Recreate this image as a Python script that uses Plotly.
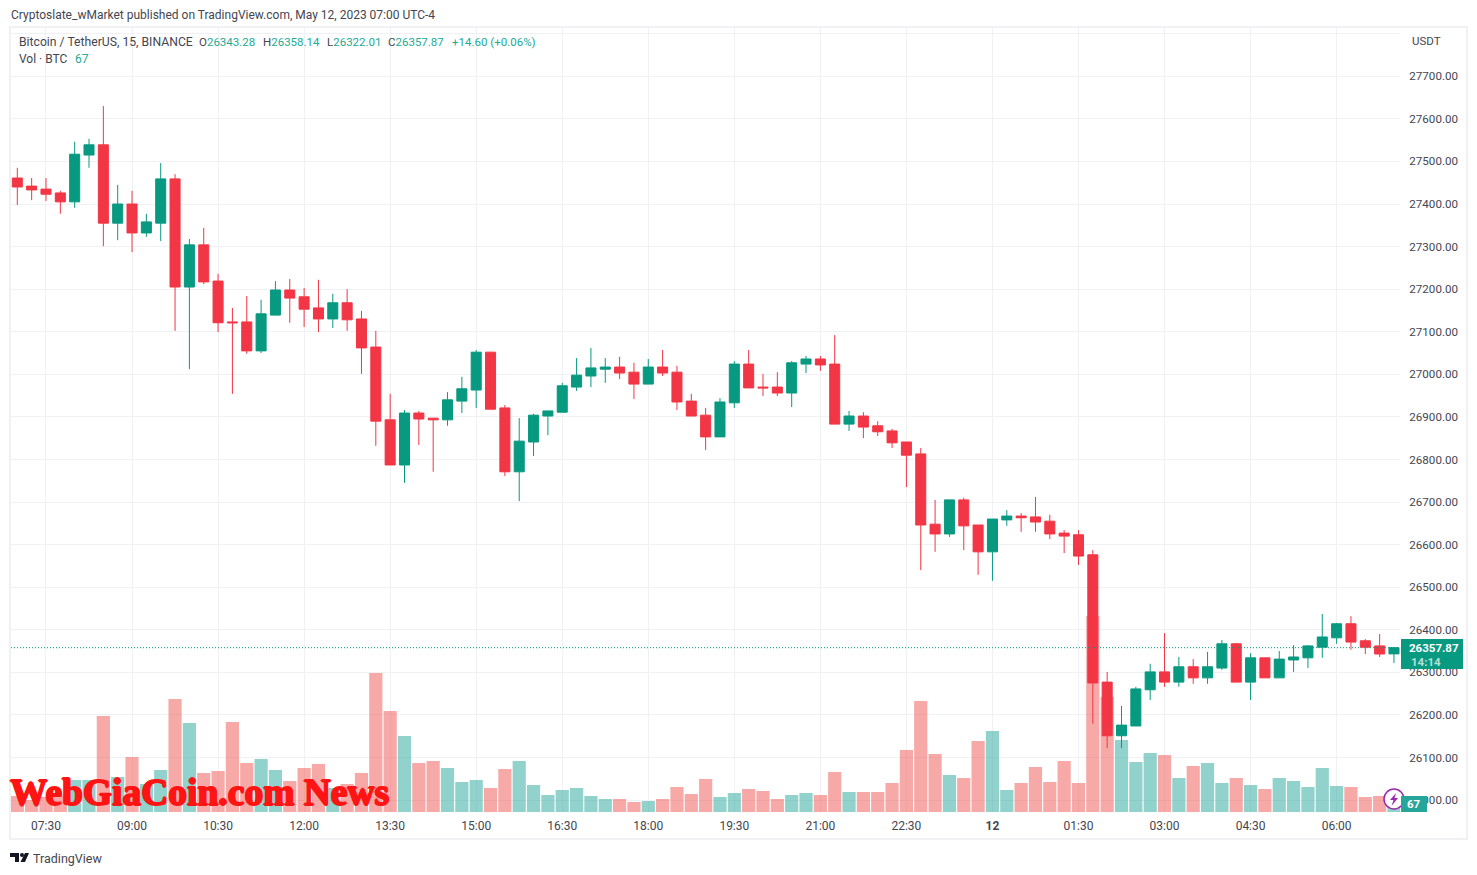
import pandas as pd
import plotly.graph_objects as go

opens = [27461,27442,27435,27426,27405,27515,27539,27355,27400,27332,27355,27459,27205,27304,27219,27123,27123,27055,27139,27198,27182,27156,27130,27168,27130,27064,26893,26787,26909,26897,26893,26937,26963,27052,26921,26771,26841,26902,26911,26970,26996,27012,27017,27005,26977,27017,27005,26937,26904,26853,26933,27024,26970,26970,26956,27024,27036,27024,26883,26902,26879,26867,26841,26813,26648,26625,26705,26646,26583,26658,26667,26665,26655,26627,26623,26576,26277,26151,26174,26259,26301,26277,26313,26287,26310,26367,26277,26334,26287,26329,26334,26359,26381,26414,26374,26362,26343.28]
highs = [27485,27461,27461,27431,27546,27553,27630,27445,27431,27377,27496,27470,27318,27344,27236,27156,27184,27175,27219,27224,27203,27222,27189,27200,27149,27102,26954,26916,26914,26897,26958,26994,27057,27052,26928,26897,26907,26914,26980,27038,27062,27038,27041,27027,27036,27057,27020,26954,26921,26944,27031,27057,27001,27005,27031,27043,27043,27092,26914,26911,26890,26872,26841,26827,26705,26705,26710,26646,26660,26681,26674,26712,26670,26634,26634,26587,26301,26221,26266,26320,26392,26336,26331,26348,26376,26369,26345,26334,26350,26364,26364,26437,26416,26432,26378,26390,26358.14]
lows = [27398,27409,27407,27377,27391,27485,27301,27315,27287,27323,27313,27102,27012,27212,27099,26954,27048,27050,27139,27121,27111,27099,27109,27102,27001,26832,26787,26745,26834,26771,26879,26909,26921,26918,26761,26702,26808,26857,26911,26961,26970,26980,26989,26942,26977,26996,26916,26902,26822,26853,26921,26968,26949,26949,26923,27003,27008,26883,26867,26850,26855,26827,26735,26540,26583,26618,26587,26529,26515,26644,26630,26630,26613,26580,26552,26179,26122,26122,26174,26235,26266,26266,26273,26273,26306,26277,26235,26287,26287,26301,26310,26334,26367,26353,26343,26336,26322.01]
closes = [27440,27433,27423,27405,27517,27539,27355,27400,27332,27358,27459,27205,27304,27217,27121,27121,27055,27142,27198,27179,27153,27130,27168,27128,27062,26890,26787,26909,26895,26893,26940,26966,27052,26918,26771,26843,26904,26914,26973,26998,27015,27017,27003,26977,27017,27003,26935,26902,26853,26935,27024,26968,26968,26956,27027,27036,27022,26883,26902,26876,26865,26839,26810,26646,26625,26705,26644,26583,26660,26667,26663,26653,26625,26620,26573,26275,26151,26176,26261,26301,26277,26313,26287,26313,26367,26277,26334,26287,26331,26336,26362,26383,26414,26371,26359,26343,26357.87]
volumes = [208,156,195,208,416,416,1248,455,715,364,546,1469,1157,507,533,1170,637,689,546,403,572,624,312,364,507,1807,1313,988,637,663,572,390,416,312,559,663,351,221,286,312,208,169,169,130,143,169,325,234,429,195,247,299,273,169,221,247,221,520,260,260,260,377,806,1443,754,481,442,923,1053,286,377,585,390,663,377,2548,1495,936,650,767,741,442,598,637,377,442,351,299,442,403,325,572,338,325,195,208,67]
assert len(opens) == len(highs) == len(lows) == len(closes) == len(volumes) == 97

times = pd.date_range("2023-05-11 07:00", periods=len(opens), freq="15min")
time_tick_labels = ["07:30","09:00","10:30","12:00","13:30","15:00","16:30","18:00","19:30","21:00","22:30","<b>12</b>","01:30","03:00","04:30","06:00"]
time_ticks = pd.date_range("2023-05-11 07:30", periods=len(time_tick_labels), freq="90min")
price_ticks = list(range(26000, 27900, 100))
price_tick_labels = [f"{p:.2f}" if p <= 27700 else "" for p in price_ticks]
last_price = 26357.87

UP, DOWN = "#089981", "#F23645"
VOL_UP, VOL_DOWN = "rgba(38,166,154,0.5)", "rgba(239,83,80,0.5)"
GRID = "#f0f1f4"
FONT = "Roboto"
TEXT = "#434651"

W, H = 1477, 875
L, R, T, B = 11, 1400, 28, 812
def px(x): return (x - L) / (R - L)
def py(y): return (B - y) / (B - T)

fig = go.Figure()
fig.add_bar(x=times, y=volumes, yaxis="y", marker_line_width=0,
            marker_color=[VOL_UP if c >= o else VOL_DOWN for o, c in zip(opens, closes)])
fig.add_candlestick(x=times, open=opens, high=highs, low=lows, close=closes, yaxis="y2",
                    whiskerwidth=0,
                    increasing=dict(line=dict(color=UP, width=1), fillcolor=UP),
                    decreasing=dict(line=dict(color=DOWN, width=1), fillcolor=DOWN))

def note(x, y, text, size=12, color=TEXT, family=FONT, anchor="left", **font):
    return dict(xref="paper", yref="paper", x=px(x), y=py(y), text=text, showarrow=False,
                xanchor=anchor, yanchor="middle", borderpad=0,
                font=dict(family=family, size=size, color=color, **font))

def box(x0, y0, x1, y1, fill, line=None, width=0, kind="rect"):
    return dict(type=kind, xref="paper", yref="paper", layer="above",
                x0=px(x0), x1=px(x1), y0=py(y0), y1=py(y1),
                fillcolor=fill, line=dict(color=line or fill, width=width))

def path(points, fill):
    d = "M" + " L".join(f"{px(a):.5f},{py(b):.5f}" for a, b in points) + " Z"
    return dict(type="path", xref="paper", yref="paper", layer="above", path=d,
                fillcolor=fill, line=dict(width=0))

TEAL = "#22ab94"
WM = "#ff1414"
notes = [
    note(10, 15, "Cryptoslate_wMarket published on TradingView.com, May 12, 2023 07:00 UTC-4", 12),
    note(18, 42, "Bitcoin / TetherUS, 15, BINANCE", 12.2),
    note(198, 42, f'O<span style="color:{TEAL}">26343.28</span>', 11.5),
    note(262, 42, f'H<span style="color:{TEAL}">26358.14</span>', 11.5),
    note(326, 42, f'L<span style="color:{TEAL}">26322.01</span>', 11.5),
    note(387, 42, f'C<span style="color:{TEAL}">26357.87</span>', 11.5),
    note(451, 42, "+14.60 (+0.06%)", 11.5, TEAL),
    note(18, 59, "Vol · BTC", 12),
    note(74, 59, "67", 12, TEAL),
    note(1411, 41, "USDT", 11.5),
    note(1408, 648, "<b>26357.87</b>", 11.5, "#ffffff"),
    note(1410, 662, "<b>14:14</b>", 11.5, "#b5e0d8"),
    note(1414, 804, "<b>67</b>", 11.5, "#ffffff", anchor="center"),
    note(9, 792, "<b>WebGiaCoin.com News</b>", 37.5, WM, "Liberation Serif",
         shadow=f"1px 0 0 {WM}, -1px 0 0 {WM}, 0 1px 0 {WM}, 0 -1px 0 {WM}"),
    note(32, 858, "TradingView", 12.5),
]

shapes = [
    dict(type="rect", xref="paper", yref="paper", layer="below",
         x0=px(10), x1=px(1467), y0=py(839), y1=py(27), line=dict(color=GRID, width=2)),
    dict(type="line", xref="paper", yref="y2", layer="above", x0=0, x1=1, y0=last_price, y1=last_price,
         line=dict(color=UP, width=1, dash="1px,2px")),
    box(1401, 639, 1463, 669, UP),
    box(1384, 789, 1404, 809, "#ffffff", "#9c27b0", 1.5, "circle"),
    path([(1396, 793), (1390, 800), (1393.5, 800), (1391.5, 806), (1398, 798), (1394.5, 798)], "#9c27b0"),
    box(1401, 796, 1427, 812, "#26a69a"),
    # TradingView logo
    path([(10, 853), (19, 853), (19, 862), (15, 862), (15, 857), (10, 857)], "#131722"),
    path([(25, 853), (29, 853), (25, 862), (20.5, 862)], "#131722"),
    box(20, 853, 24, 857, "#131722", kind="circle"),
]

fig.update_layout(
    width=W, height=H, margin=dict(l=L, r=W - R, t=T, b=H - B, pad=0, autoexpand=False),
    paper_bgcolor="#ffffff", plot_bgcolor="#ffffff", showlegend=False,
    bargap=0.08, boxgap=0.3, boxgroupgap=0, font=dict(family=FONT, size=12, color=TEXT),
    hovermode=False, annotations=notes, shapes=shapes,
    xaxis=dict(type="date", rangeslider=dict(visible=False),
               range=[times[0] - pd.Timedelta(minutes=6.6), times[0] + pd.Timedelta(minutes=96.42 * 15)],
               tickmode="array", tickvals=list(time_ticks), ticktext=time_tick_labels,
               showgrid=True, gridcolor=GRID, gridwidth=1, zeroline=False, showline=False,
               ticks="outside", ticklen=3, tickcolor="#ffffff",
               tickfont=dict(family=FONT, size=12, color=TEXT)),
    yaxis=dict(range=[0, (B - T) * 13], visible=False, showgrid=False, zeroline=False, fixedrange=True),
    yaxis2=dict(overlaying="y", side="right", anchor="x",
                range=[25971.9, 27813.4], tickmode="array", tickvals=price_ticks, ticktext=price_tick_labels,
                showgrid=True, gridcolor=GRID, gridwidth=1, zeroline=False, showline=False,
                ticks="outside", ticklen=6, tickcolor="#ffffff",
                tickfont=dict(family=FONT, size=11.6, color=TEXT)),
)

fig.write_html("out.html", config=dict(displayModeBar=False),
               post_script="document.body.style.margin='0';document.body.style.overflow='hidden';")
